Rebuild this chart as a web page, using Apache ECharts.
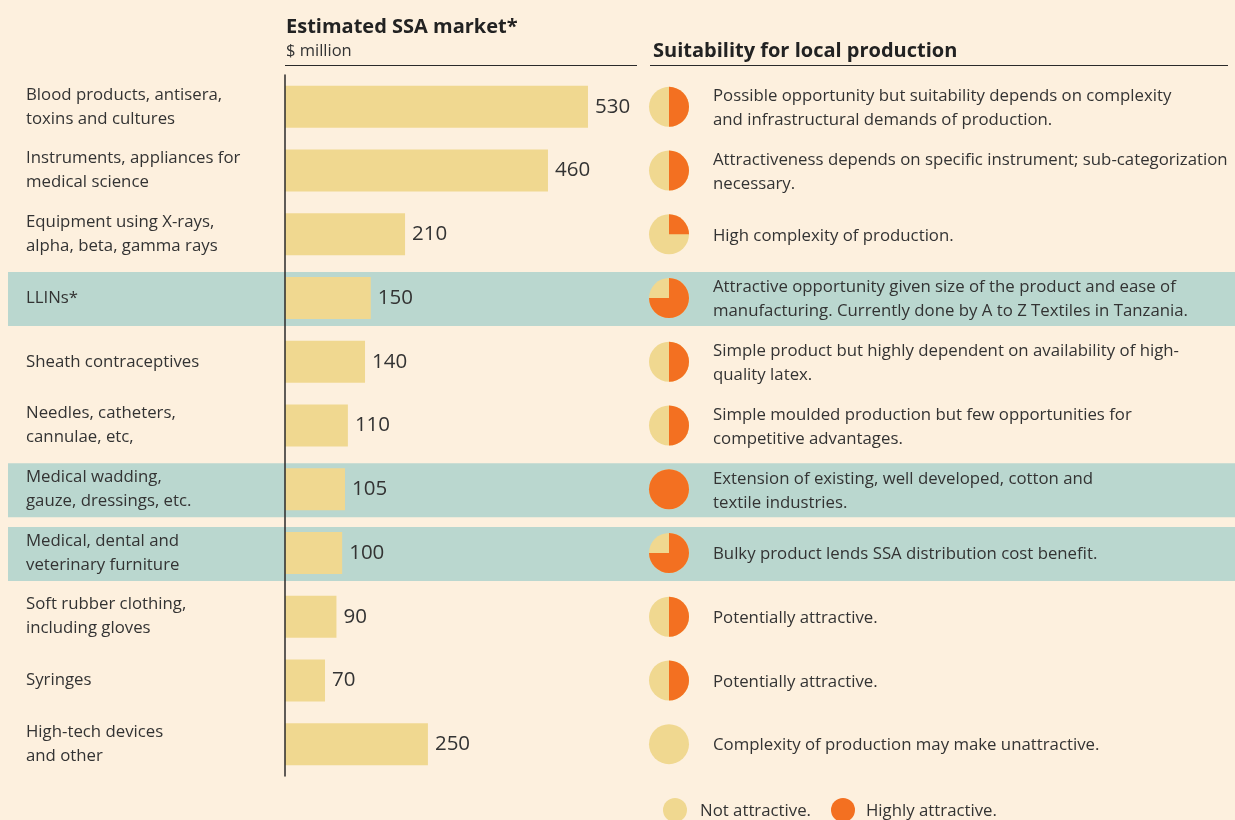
<!DOCTYPE html>
<html>
<head>
<meta charset="utf-8">
<script src="https://cdn.jsdelivr.net/npm/echarts@6/dist/echarts.min.js"></script>
<style>
html,body{margin:0;padding:0;background:#fdf0de;}
#chart{width:1235px;height:820px;}
</style>
</head>
<body>
<div id="chart"></div>
<script>
const categories = [
  'Blood products, antisera,\ntoxins and cultures',
  'Instruments, appliances for\nmedical science',
  'Equipment using X-rays,\nalpha, beta, gamma rays',
  'LLINs*',
  'Sheath contraceptives',
  'Needles, catheters,\ncannulae, etc,',
  'Medical wadding,\ngauze, dressings, etc.',
  'Medical, dental and\nveterinary furniture',
  'Soft rubber clothing,\nincluding gloves',
  'Syringes',
  'High-tech devices\nand other'
];
const marketValues = [530, 460, 210, 150, 140, 110, 105, 100, 90, 70, 250];
const attractiveness = [0.5, 0.5, 0.25, 0.75, 0.5, 0.5, 1, 0.75, 0.5, 0.5, 0];
const highlighted = [false, false, false, true, false, false, true, true, false, false, false];
const descriptions = [
  'Possible opportunity but suitability depends on complexity\nand infrastructural demands of production.',
  'Attractiveness depends on specific instrument; sub-categorization\nnecessary.',
  'High complexity of production.',
  'Attractive opportunity given size of the product and ease of\nmanufacturing. Currently done by A to Z Textiles in Tanzania.',
  'Simple product but highly dependent on availability of high-\nquality latex.',
  'Simple moulded production but few opportunities for\ncompetitive advantages.',
  'Extension of existing, well developed, cotton and\ntextile industries.',
  'Bulky product lends SSA distribution cost benefit.',
  'Potentially attractive.',
  'Potentially attractive.',
  'Complexity of production may make unattractive.'
];
const legendLabels = ['Not attractive.', 'Highly attractive.'];

const FONT = '"Open Sans", "Noto Sans", sans-serif';
const TEXT = '#333333';
const BG = '#fdf0de';
const TEAL = '#bad7cf';
const BEIGE = '#f0d890';
const ORANGE = '#f37021';

const chart = echarts.init(document.getElementById('chart'), null, {renderer: 'canvas'});

const bandData = highlighted.map((h, i) => h ? [0, i] : null).filter(Boolean);
const pieData = attractiveness.map((f, i) => [0, i, f]);
const descData = descriptions.map((d, i) => [0, i, d]);

const option = {
  backgroundColor: BG,
  animation: false,
  textStyle: {fontFamily: FONT},
  grid: {left: 285, top: 75, width: 343, height: 701, containLabel: false},
  xAxis: {type: 'value', min: 0, max: 600, show: false},
  yAxis: {
    type: 'category',
    data: categories,
    inverse: true,
    z: 10,
    axisLine: {show: true, lineStyle: {color: '#2a2a2a', width: 1.5}},
    axisTick: {show: false},
    splitLine: {show: false},
    axisLabel: {
      align: 'left',
      margin: 259,
      color: TEXT,
      fontFamily: FONT,
      fontSize: 16.8,
      lineHeight: 24,
      padding: [2, 0, 0, 0]
    }
  },
  graphic: [
    {type: 'text', x: 286, y: 27, style: {text: 'Estimated SSA market*', font: 'bold 20px ' + FONT, fill: '#222', verticalAlign: 'middle'}},
    {type: 'text', x: 286, y: 51, style: {text: '$ million', font: '16.5px ' + FONT, fill: TEXT, verticalAlign: 'middle'}},
    {type: 'line', shape: {x1: 285, y1: 65.5, x2: 637, y2: 65.5}, style: {stroke: '#2a2a2a', lineWidth: 1.2}},
    {type: 'text', x: 653, y: 51, style: {text: 'Suitability for local production', font: 'bold 20px ' + FONT, fill: '#222', verticalAlign: 'middle'}},
    {type: 'line', shape: {x1: 650, y1: 65.5, x2: 1228, y2: 65.5}, style: {stroke: '#2a2a2a', lineWidth: 1.2}},
    {type: 'circle', shape: {cx: 675, cy: 810, r: 12}, style: {fill: BEIGE}},
    {type: 'text', x: 700, y: 811, style: {text: legendLabels[0], font: '16.8px ' + FONT, fill: TEXT, verticalAlign: 'middle'}},
    {type: 'circle', shape: {cx: 843, cy: 810, r: 12}, style: {fill: ORANGE}},
    {type: 'text', x: 866, y: 811, style: {text: legendLabels[1], font: '16.8px ' + FONT, fill: TEXT, verticalAlign: 'middle'}}
  ],
  series: [
    {
      type: 'custom',
      name: 'bands',
      z: -5,
      silent: true,
      clip: false,
      data: bandData,
      renderItem: function (params, api) {
        const c = api.coord([0, api.value(1)]);
        const h = 54;
        return {type: 'rect', shape: {x: 8, y: c[1] - h / 2 + 1, width: 1235 - 8, height: h}, style: {fill: TEAL}};
      }
    },
    {
      type: 'bar',
      name: 'market',
      data: marketValues,
      barWidth: 42,
      z: 3,
      itemStyle: {color: BEIGE},
      label: {show: true, position: 'right', distance: 7, color: TEXT, fontSize: 20.5, fontFamily: FONT, padding: [2, 0, 0, 0]}
    },
    {
      type: 'custom',
      name: 'pies',
      z: 4,
      silent: true,
      clip: false,
      data: pieData,
      renderItem: function (params, api) {
        const c = api.coord([0, api.value(1)]);
        const f = api.value(2);
        const cx = 669, cy = c[1], r = 20;
        const children = [{type: 'circle', shape: {cx, cy, r}, style: {fill: BEIGE}}];
        if (f >= 1) {
          children.push({type: 'circle', shape: {cx, cy, r}, style: {fill: ORANGE}});
        } else if (f > 0) {
          children.push({type: 'sector', shape: {cx, cy, r0: 0, r, startAngle: -Math.PI / 2, endAngle: -Math.PI / 2 + f * Math.PI * 2, clockwise: true}, style: {fill: ORANGE}});
        }
        return {type: 'group', children};
      }
    },
    {
      type: 'custom',
      name: 'descriptions',
      z: 4,
      silent: true,
      clip: false,
      data: descData,
      renderItem: function (params, api) {
        const c = api.coord([0, api.value(1)]);
        return {type: 'text', x: 713, y: c[1] + 1.5, style: {text: descriptions[params.dataIndex], font: '16.8px ' + FONT, lineHeight: 24, fill: TEXT, verticalAlign: 'middle', align: 'left'}};
      }
    }
  ]
};
chart.setOption(option);
</script>
</body>
</html>
